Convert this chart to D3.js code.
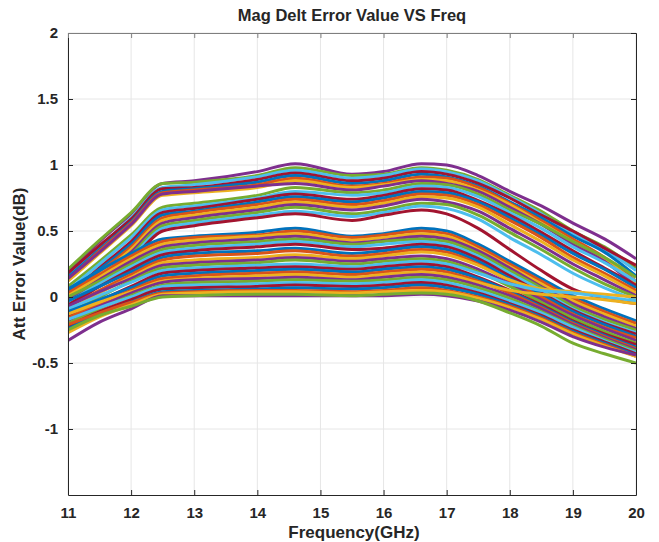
<!DOCTYPE html>
<html><head><meta charset="utf-8">
<script src="https://cdn.jsdelivr.net/npm/d3@7"></script>
<style>
html,body{margin:0;padding:0;background:#fff;}
text{font-family:"Liberation Sans",Arial,sans-serif;font-weight:bold;fill:#262626;}
</style></head>
<body><svg id="c" width="659" height="542"></svg>
<script>
// Frequency sample points (GHz)
const freqs = [11, 11.5, 12, 12.5, 13, 14, 14.6, 15.5, 16, 16.6, 17, 17.5, 18, 18.5, 19, 19.5, 20];
// Upper sub-band curves
const topBand = [
  [0.19, 0.42, 0.63, 0.86, 0.88, 0.95, 1.01, 0.93, 0.95, 1.01, 1.00, 0.92, 0.80, 0.69, 0.56, 0.44, 0.29],
  [0.21, 0.43, 0.64, 0.86, 0.87, 0.92, 0.98, 0.92, 0.93, 0.98, 0.96, 0.89, 0.77, 0.65, 0.50, 0.38, 0.22],
  [0.16, 0.38, 0.60, 0.83, 0.85, 0.91, 0.96, 0.90, 0.92, 0.97, 0.95, 0.88, 0.76, 0.63, 0.48, 0.36, 0.20],
  [0.18, 0.39, 0.59, 0.82, 0.83, 0.89, 0.94, 0.88, 0.90, 0.95, 0.93, 0.86, 0.75, 0.62, 0.50, 0.37, 0.24],
  [0.15, 0.36, 0.57, 0.80, 0.82, 0.87, 0.92, 0.86, 0.88, 0.93, 0.91, 0.84, 0.72, 0.60, 0.46, 0.34, 0.16],
  [0.13, 0.35, 0.56, 0.79, 0.81, 0.85, 0.90, 0.84, 0.86, 0.91, 0.90, 0.83, 0.71, 0.58, 0.44, 0.30, 0.12],
  [0.12, 0.33, 0.54, 0.77, 0.79, 0.83, 0.88, 0.83, 0.85, 0.89, 0.88, 0.81, 0.70, 0.56, 0.42, 0.29, 0.10],
  [0.14, 0.34, 0.55, 0.78, 0.80, 0.84, 0.86, 0.81, 0.84, 0.88, 0.86, 0.80, 0.68, 0.55, 0.40, 0.27, 0.08]
];
// Second sub-band curves
const midBand = [
  [0.08, 0.27, 0.47, 0.68, 0.71, 0.77, 0.83, 0.79, 0.81, 0.86, 0.85, 0.78, 0.66, 0.55, 0.42, 0.30, 0.15],
  [0.05, 0.25, 0.45, 0.66, 0.69, 0.75, 0.80, 0.77, 0.79, 0.84, 0.83, 0.76, 0.64, 0.52, 0.38, 0.26, 0.12],
  [0.02, 0.22, 0.42, 0.64, 0.67, 0.74, 0.78, 0.74, 0.77, 0.82, 0.81, 0.73, 0.62, 0.49, 0.35, 0.22, 0.09],
  [0.04, 0.21, 0.40, 0.62, 0.65, 0.72, 0.76, 0.72, 0.75, 0.80, 0.79, 0.72, 0.60, 0.47, 0.33, 0.21, 0.07],
  [0.00, 0.19, 0.38, 0.60, 0.64, 0.70, 0.74, 0.70, 0.73, 0.78, 0.77, 0.70, 0.58, 0.45, 0.30, 0.18, 0.05],
  [-0.02, 0.17, 0.36, 0.58, 0.62, 0.68, 0.72, 0.68, 0.71, 0.76, 0.75, 0.68, 0.55, 0.42, 0.28, 0.16, 0.03],
  [-0.04, 0.15, 0.34, 0.56, 0.60, 0.66, 0.70, 0.66, 0.69, 0.74, 0.72, 0.65, 0.52, 0.39, 0.25, 0.13, 0.01],
  [-0.05, 0.13, 0.32, 0.54, 0.58, 0.64, 0.68, 0.63, 0.66, 0.71, 0.70, 0.62, 0.49, 0.36, 0.22, 0.10, 0.00],
  [-0.07, 0.11, 0.30, 0.52, 0.56, 0.62, 0.65, 0.61, 0.64, 0.69, 0.67, 0.59, 0.45, 0.32, 0.18, 0.07, -0.02],
  [-0.09, 0.09, 0.28, 0.50, 0.54, 0.60, 0.63, 0.58, 0.62, 0.66, 0.63, 0.52, 0.36, 0.20, 0.06, -0.01, -0.05]
];
// Lower group curves
const lowBand = [
  [0.06, 0.20, 0.33, 0.44, 0.46, 0.49, 0.52, 0.46, 0.48, 0.52, 0.50, 0.40, 0.27, 0.14, 0.01, -0.09, -0.18],
  [0.03, 0.17, 0.31, 0.42, 0.45, 0.47, 0.50, 0.45, 0.47, 0.50, 0.48, 0.38, 0.25, 0.12, -0.01, -0.11, -0.20],
  [0.01, 0.15, 0.29, 0.40, 0.43, 0.46, 0.48, 0.43, 0.45, 0.48, 0.46, 0.36, 0.23, 0.10, -0.03, -0.13, -0.22],
  [-0.02, 0.13, 0.27, 0.38, 0.41, 0.44, 0.46, 0.41, 0.43, 0.46, 0.44, 0.35, 0.22, 0.08, -0.05, -0.15, -0.24],
  [0.00, 0.12, 0.25, 0.36, 0.39, 0.42, 0.44, 0.40, 0.42, 0.44, 0.42, 0.33, 0.20, 0.07, -0.07, -0.17, -0.25],
  [-0.04, 0.10, 0.23, 0.34, 0.37, 0.40, 0.42, 0.38, 0.40, 0.42, 0.40, 0.31, 0.18, 0.05, -0.09, -0.19, -0.27],
  [-0.06, 0.08, 0.21, 0.32, 0.35, 0.38, 0.40, 0.36, 0.37, 0.40, 0.38, 0.29, 0.16, 0.03, -0.10, -0.20, -0.28],
  [-0.03, 0.08, 0.19, 0.30, 0.33, 0.35, 0.37, 0.33, 0.35, 0.38, 0.36, 0.27, 0.14, 0.02, -0.11, -0.21, -0.30],
  [-0.08, 0.05, 0.17, 0.28, 0.31, 0.33, 0.35, 0.31, 0.33, 0.36, 0.34, 0.25, 0.12, 0.00, -0.13, -0.23, -0.31],
  [-0.10, 0.03, 0.15, 0.26, 0.28, 0.30, 0.32, 0.29, 0.31, 0.34, 0.32, 0.24, 0.13, 0.06, 0.04, 0.02, 0.00],
  [-0.07, 0.04, 0.14, 0.24, 0.26, 0.28, 0.30, 0.27, 0.29, 0.31, 0.29, 0.21, 0.10, -0.02, -0.14, -0.24, -0.33],
  [-0.12, 0.00, 0.12, 0.22, 0.24, 0.26, 0.28, 0.25, 0.27, 0.29, 0.27, 0.19, 0.08, -0.04, -0.16, -0.26, -0.35],
  [-0.09, 0.01, 0.11, 0.20, 0.22, 0.24, 0.25, 0.23, 0.25, 0.27, 0.25, 0.18, 0.10, 0.05, 0.03, 0.00, -0.03],
  [-0.14, -0.03, 0.08, 0.18, 0.20, 0.22, 0.23, 0.21, 0.23, 0.25, 0.23, 0.15, 0.05, -0.06, -0.18, -0.28, -0.36],
  [-0.11, -0.02, 0.07, 0.16, 0.18, 0.20, 0.21, 0.19, 0.21, 0.23, 0.21, 0.14, 0.04, -0.07, -0.19, -0.29, -0.38],
  [-0.16, -0.05, 0.05, 0.14, 0.16, 0.18, 0.19, 0.17, 0.19, 0.21, 0.19, 0.12, 0.03, -0.08, -0.20, -0.30, -0.39],
  [-0.13, -0.04, 0.04, 0.12, 0.14, 0.16, 0.17, 0.15, 0.17, 0.19, 0.17, 0.11, 0.05, 0.02, 0.00, -0.02, -0.05],
  [-0.18, -0.07, 0.03, 0.11, 0.13, 0.14, 0.15, 0.13, 0.15, 0.17, 0.15, 0.09, 0.01, -0.09, -0.21, -0.31, -0.40],
  [-0.20, -0.09, 0.01, 0.09, 0.11, 0.12, 0.13, 0.12, 0.13, 0.15, 0.13, 0.07, -0.01, -0.11, -0.22, -0.32, -0.41],
  [-0.17, -0.08, 0.00, 0.08, 0.09, 0.10, 0.11, 0.10, 0.11, 0.13, 0.11, 0.05, -0.03, -0.12, -0.23, -0.33, -0.42],
  [-0.22, -0.11, -0.02, 0.06, 0.07, 0.08, 0.09, 0.08, 0.09, 0.11, 0.09, 0.03, -0.05, -0.14, -0.25, -0.34, -0.43],
  [-0.24, -0.13, -0.04, 0.04, 0.05, 0.06, 0.07, 0.06, 0.07, 0.09, 0.07, 0.02, -0.06, -0.15, -0.26, -0.35, -0.44],
  [-0.21, -0.12, -0.04, 0.03, 0.04, 0.05, 0.05, 0.04, 0.05, 0.07, 0.05, 0.00, -0.07, -0.16, -0.27, -0.36, -0.45],
  [-0.27, -0.15, -0.06, 0.02, 0.03, 0.04, 0.04, 0.03, 0.04, 0.05, 0.04, -0.01, -0.08, -0.17, -0.28, -0.37, -0.45],
  [-0.33, -0.19, -0.09, 0.01, 0.01, 0.01, 0.01, 0.01, 0.01, 0.02, 0.01, -0.03, -0.10, -0.19, -0.30, -0.38, -0.44],
  [-0.25, -0.14, -0.07, 0.00, 0.01, 0.02, 0.02, 0.01, 0.02, 0.03, 0.02, -0.03, -0.12, -0.22, -0.35, -0.43, -0.50]
];
const xTicks = [11, 12, 13, 14, 15, 16, 17, 18, 19, 20];
const yTicks = [-1, -0.5, 0, 0.5, 1, 1.5, 2];
const yTickLabels = ["-1", "-0.5", "0", "0.5", "1", "1.5", "2"];
const colorOrder = ["#0072BD", "#D95319", "#EDB120", "#7E2F8E", "#77AC30", "#4DBEEE", "#A2142F"];

const series = topBand.concat(midBand, lowBand);
const margin = {left: 68, right: 23, top: 33, bottom: 47};
const W = 659, H = 542;
const pw = W - margin.left - margin.right, ph = H - margin.top - margin.bottom;
const svg = d3.select("#c");
const x = d3.scaleLinear().domain([11, 20]).range([margin.left, margin.left + pw]);
const y = d3.scaleLinear().domain([-1.5, 2]).range([margin.top + ph, margin.top]);

// grid
const g = svg.append("g");
g.selectAll(".gx").data(xTicks).enter().append("line")
  .attr("x1", d => x(d)).attr("x2", d => x(d)).attr("y1", margin.top).attr("y2", margin.top + ph)
  .attr("stroke", "#e6e6e6").attr("stroke-width", 1);
g.selectAll(".gy").data(yTicks).enter().append("line")
  .attr("y1", d => y(d)).attr("y2", d => y(d)).attr("x1", margin.left).attr("x2", margin.left + pw)
  .attr("stroke", "#e6e6e6").attr("stroke-width", 1);

svg.append("clipPath").attr("id", "clip").append("rect")
  .attr("x", margin.left).attr("y", margin.top).attr("width", pw).attr("height", ph);

const line = d3.line().x((d, i) => x(freqs[i])).y(d => y(d)).curve(d3.curveMonotoneX);
svg.append("g").attr("clip-path", "url(#clip)")
  .selectAll("path").data(series).enter().append("path")
  .attr("d", line)
  .attr("fill", "none")
  .attr("stroke", (d, i) => colorOrder[(i + 3) % 7])
  .attr("stroke-width", 3)
  .attr("stroke-linejoin", "round");

// axes
const axB = svg.append("g").attr("transform", `translate(0,${margin.top + ph})`)
  .call(d3.axisBottom(x).tickValues(xTicks).tickFormat(d3.format("d")).tickSizeInner(-5).tickSizeOuter(0).tickPadding(12));
const axL = svg.append("g").attr("transform", `translate(${margin.left},0)`)
  .call(d3.axisLeft(y).tickValues(yTicks).tickFormat((d, i) => yTickLabels[i]).tickSizeInner(-5).tickSizeOuter(0).tickPadding(10));
const axT = svg.append("g").attr("transform", `translate(0,${margin.top})`)
  .call(d3.axisTop(x).tickValues(xTicks).tickFormat("").tickSizeInner(-5).tickSizeOuter(0));
const axR = svg.append("g").attr("transform", `translate(${margin.left + pw},0)`)
  .call(d3.axisRight(y).tickValues(yTicks).tickFormat("").tickSizeInner(-5).tickSizeOuter(0));
[axB, axL, axT, axR].forEach(a => {
  a.selectAll("path").attr("stroke", "#262626").attr("stroke-width", 1);
  a.selectAll("line").attr("stroke", "#262626");
  a.selectAll("text").style("font-size", "15px").attr("fill", "#262626");
});
axT.selectAll("path,line").attr("stroke", "#7f7f7f");

svg.append("text").attr("x", 352).attr("y", 21).attr("text-anchor", "middle")
  .style("font-size", "16.5px").text("Mag Delt Error Value VS Freq");
svg.append("text").attr("x", 354).attr("y", 538).attr("text-anchor", "middle")
  .style("font-size", "17px").text("Frequency(GHz)");
svg.append("text").attr("transform", "translate(25,264) rotate(-90)").attr("text-anchor", "middle")
  .style("font-size", "17px").text("Att Error Value(dB)");
</script></body></html>
